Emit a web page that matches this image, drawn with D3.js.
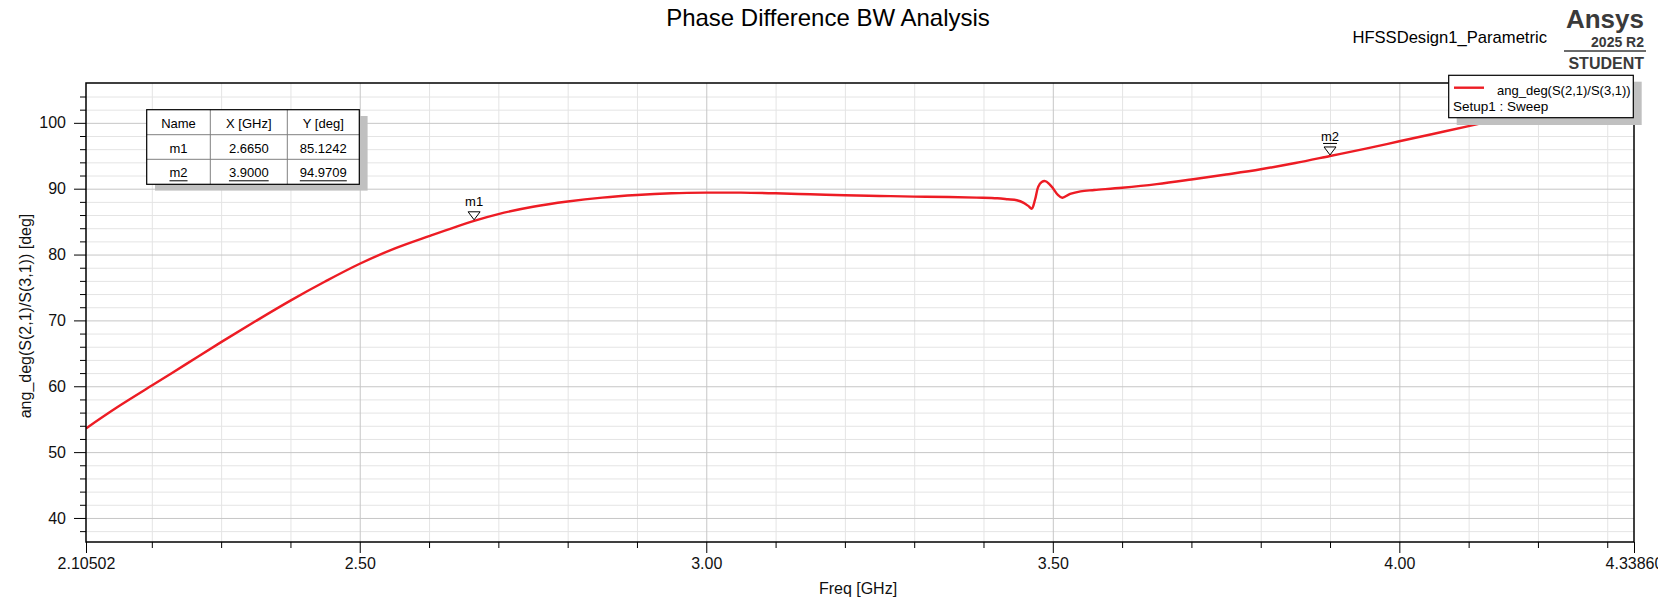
<!DOCTYPE html>
<html>
<head>
<meta charset="utf-8">
<script src="https://cdn.jsdelivr.net/npm/d3@7"></script>
<style>
  body { margin: 0; background: #fff; }
  svg { font-family: "Liberation Sans", Arial, sans-serif; }
</style>
</head>
<body>
<script>
// curve (GHz, deg)
var freq = [2.10502, 2.15, 2.2, 2.25, 2.3, 2.35, 2.4, 2.45, 2.5, 2.55, 2.6, 2.665, 2.7, 2.75,
    2.8, 2.85, 2.9, 2.95, 3.0, 3.05, 3.1, 3.15, 3.2, 3.25, 3.3, 3.35, 3.39, 3.42, 3.435,
    3.448, 3.458, 3.465, 3.4696, 3.4745, 3.479, 3.484, 3.489, 3.495, 3.5007, 3.507, 3.5137,
    3.525, 3.54, 3.56, 3.6, 3.65, 3.7, 3.75, 3.8, 3.85, 3.9, 3.95, 4.0, 4.05, 4.1, 4.15,
    4.2, 4.25, 4.3, 4.3386];
var phase = [53.6, 56.8, 60.1, 63.4, 66.7, 69.9, 73.0, 75.9, 78.6, 80.9, 82.8, 85.12, 86.15, 87.25,
    88.05, 88.65, 89.05, 89.3, 89.4, 89.4, 89.3, 89.15, 89.0, 88.9, 88.8, 88.75, 88.65, 88.55, 88.4,
    88.25, 87.85, 87.35, 86.96, 88.4, 90.3, 91.0, 91.15, 90.7, 90.0, 89.1, 88.63,
    89.2, 89.6, 89.8, 90.15, 90.7, 91.4, 92.15, 92.95, 93.9, 94.97, 96.05, 97.2, 98.35, 99.5, 100.7,
    101.95, 103.2, 104.5, 105.5];

var xMajor = [2.10502, 2.5, 3.0, 3.5, 4.0, 4.3386];
var xMajorLabels = ["2.10502", "2.50", "3.00", "3.50", "4.00", "4.33860"];
var xGridMajor = [2.5, 3.0, 3.5, 4.0];
var xMinor = [2.2, 2.3, 2.4, 2.6, 2.7, 2.8, 2.9, 3.1, 3.2, 3.3, 3.4, 3.6, 3.7, 3.8, 3.9, 4.1, 4.2, 4.3];
var yMajor = [40, 50, 60, 70, 80, 90, 100];
var yMinor = [38, 42, 44, 46, 48, 52, 54, 56, 58, 62, 64, 66, 68, 72, 74, 76, 78, 82, 84, 86, 88, 92, 94, 96, 98, 102, 104];

var markerNames = ["m1", "m2"];
var markerX = [2.665, 3.9];
var markerY = [85.1242, 94.9709];
var tableHeader = ["Name", "X [GHz]", "Y [deg]"];

var margin = {top: 83, left: 86};
var width = 1548;
var height = 459;

var svg = d3.select("body").append("svg")
    .attr("width", 1658)
    .attr("height", 600);

var g = svg.append("g")
    .attr("transform", "translate(" + margin.left + "," + margin.top + ")");

var xScale = d3.scaleLinear()
    .domain([2.10502, 4.3386])
    .range([0, width]);

var yScale = d3.scaleLinear()
    .domain([36.35, 106.05])
    .range([height, 0]);

// grid
g.append("g")
    .attr("transform", "translate(0," + height + ")")
    .call(d3.axisBottom(xScale).tickValues(xMinor).tickSize(-height).tickFormat(""))
    .call(function(a) { a.select(".domain").remove(); })
    .selectAll("line").attr("stroke", "#e4e4e4");
g.append("g")
    .call(d3.axisLeft(yScale).tickValues(yMinor).tickSize(-width).tickFormat(""))
    .call(function(a) { a.select(".domain").remove(); })
    .selectAll("line").attr("stroke", "#e4e4e4");
g.append("g")
    .attr("transform", "translate(0," + height + ")")
    .call(d3.axisBottom(xScale).tickValues(xGridMajor).tickSize(-height).tickFormat(""))
    .call(function(a) { a.select(".domain").remove(); })
    .selectAll("line").attr("stroke", "#c6c6c6");
g.append("g")
    .call(d3.axisLeft(yScale).tickValues(yMajor).tickSize(-width).tickFormat(""))
    .call(function(a) { a.select(".domain").remove(); })
    .selectAll("line").attr("stroke", "#c6c6c6");

// curve
g.append("clipPath").attr("id", "plotClip")
    .append("rect").attr("width", width).attr("height", height);

var line = d3.line()
    .x(function(d) { return xScale(d[0]); })
    .y(function(d) { return yScale(d[1]); })
    .curve(d3.curveCatmullRom);

g.append("path")
    .datum(freq.map(function(f, i) { return [f, phase[i]]; }))
    .attr("clip-path", "url(#plotClip)")
    .attr("fill", "none")
    .attr("stroke", "#ed1c24")
    .attr("stroke-width", 2.4)
    .attr("d", line);

// axes
g.append("g")
    .attr("transform", "translate(0," + height + ")")
    .call(d3.axisBottom(xScale).tickValues(xMinor).tickSize(6).tickFormat(""))
    .call(function(a) { a.select(".domain").remove(); })
    .selectAll("line").attr("stroke", "#000");

g.append("g")
    .attr("transform", "translate(0," + height + ")")
    .call(d3.axisBottom(xScale).tickValues(xMajor).tickSize(11).tickSizeOuter(0)
        .tickFormat(function(d, i) { return xMajorLabels[i]; }))
    .call(function(a) { a.select(".domain").remove(); })
    .call(function(a) { a.selectAll("line").attr("stroke", "#000"); })
    .selectAll("text")
        .attr("font-size", 16)
        .attr("fill", "#111")
        .attr("y", 16);

g.append("g")
    .call(d3.axisLeft(yScale).tickValues(yMinor).tickSize(6).tickFormat(""))
    .call(function(a) { a.select(".domain").remove(); })
    .selectAll("line").attr("stroke", "#000");

g.append("g")
    .call(d3.axisLeft(yScale).tickValues(yMajor).tickSize(12))
    .call(function(a) { a.select(".domain").remove(); })
    .call(function(a) { a.selectAll("line").attr("stroke", "#000"); })
    .selectAll("text")
        .attr("font-size", 16)
        .attr("fill", "#111")
        .attr("x", -20);

g.append("rect")
    .attr("width", width)
    .attr("height", height)
    .attr("fill", "none")
    .attr("stroke", "#000")
    .attr("stroke-width", 1.5);

// titles
svg.append("text")
    .text("Phase Difference BW Analysis")
    .attr("text-anchor", "middle")
    .attr("x", 828)
    .attr("y", 26)
    .attr("font-size", 24);

svg.append("text")
    .text("Freq [GHz]")
    .attr("text-anchor", "middle")
    .attr("x", 858)
    .attr("y", 594)
    .attr("font-size", 16)
    .attr("fill", "#111");

svg.append("text")
    .text("ang_deg(S(2,1)/S(3,1)) [deg]")
    .attr("text-anchor", "middle")
    .attr("transform", "translate(31,316) rotate(-90)")
    .attr("font-size", 16)
    .attr("fill", "#111");

svg.append("text")
    .text("HFSSDesign1_Parametric")
    .attr("text-anchor", "end")
    .attr("x", 1547)
    .attr("y", 43)
    .attr("font-size", 16.6);

// ansys badge
var badge = svg.append("g").attr("fill", "#3a3a3a").attr("font-weight", "bold").attr("text-anchor", "end");
badge.append("text").text("Ansys").attr("x", 1644).attr("y", 28).attr("font-size", 26);
badge.append("text").text("2025 R2").attr("x", 1644).attr("y", 47).attr("font-size", 14);
badge.append("line").attr("x1", 1564).attr("x2", 1646).attr("y1", 51).attr("y2", 51)
    .attr("stroke", "#3a3a3a").attr("stroke-width", 1.3);
badge.append("text").text("STUDENT").attr("x", 1644).attr("y", 69).attr("font-size", 16);

// markers
var mk = g.selectAll(".marker")
    .data(markerNames)
    .enter().append("g")
        .attr("class", "marker")
        .attr("transform", function(d, i) {
            return "translate(" + xScale(markerX[i]) + "," + (yScale(markerY[i]) - 1) + ")";
        });

mk.append("path")
    .attr("d", "M-6,-8 L6,-8 L0,0 Z")
    .attr("fill", "#fff")
    .attr("fill-opacity", 0.6)
    .attr("stroke", "#000")
    .attr("stroke-width", 1);

mk.append("text")
    .text(function(d) { return d; })
    .attr("text-anchor", "middle")
    .attr("y", -14)
    .attr("font-size", 13);

mk.filter(function(d, i) { return i == 1; })
    .append("line")
    .attr("x1", -7).attr("x2", 7)
    .attr("y1", -11.5).attr("y2", -11.5)
    .attr("stroke", "#000");

// marker table
var colX = [146.7, 210.3, 287.3, 359.3];
var rowY = [109.7, 134.7, 159.3, 184.3];

svg.append("rect")
    .attr("x", 155).attr("y", 116)
    .attr("width", colX[3] - colX[0]).attr("height", rowY[3] - rowY[0])
    .attr("fill", "#c0c0c0");

svg.append("rect")
    .attr("x", colX[0]).attr("y", rowY[0])
    .attr("width", colX[3] - colX[0]).attr("height", rowY[3] - rowY[0])
    .attr("fill", "#fff");

[1, 2].forEach(function(i) {
    svg.append("line").attr("x1", colX[0]).attr("x2", colX[3])
        .attr("y1", rowY[i]).attr("y2", rowY[i]).attr("stroke", "#808080");
    svg.append("line").attr("x1", colX[i]).attr("x2", colX[i])
        .attr("y1", rowY[0]).attr("y2", rowY[3]).attr("stroke", "#808080");
});

svg.append("rect")
    .attr("x", colX[0]).attr("y", rowY[0])
    .attr("width", colX[3] - colX[0]).attr("height", rowY[3] - rowY[0])
    .attr("fill", "none").attr("stroke", "#000").attr("stroke-width", 1.2);

var tableRows = [tableHeader].concat(markerNames.map(function(n, i) {
    return [n, markerX[i].toFixed(4), markerY[i].toFixed(4)];
}));

tableRows.forEach(function(row, r) {
    row.forEach(function(cell, c) {
        var cx = (colX[c] + colX[c + 1]) / 2;
        var t = svg.append("text")
            .text(cell)
            .attr("text-anchor", "middle")
            .attr("x", cx)
            .attr("y", rowY[r] + 18)
            .attr("font-size", 13);
        if (r == 2) {
            var w = t.node().getComputedTextLength();
            svg.append("line")
                .attr("x1", cx - w / 2).attr("x2", cx + w / 2)
                .attr("y1", rowY[r] + 21.5).attr("y2", rowY[r] + 21.5)
                .attr("stroke", "#000");
        }
    });
});

// legend
svg.append("rect")
    .attr("x", 1456.7).attr("y", 81.7)
    .attr("width", 185).attr("height", 43.3)
    .attr("fill", "#c0c0c0");
svg.append("rect")
    .attr("x", 1448.7).attr("y", 75.3)
    .attr("width", 184.6).attr("height", 42.4)
    .attr("fill", "#fff").attr("stroke", "#000").attr("stroke-width", 1.2);
svg.append("line")
    .attr("x1", 1454).attr("x2", 1484).attr("y1", 87.7).attr("y2", 87.7)
    .attr("stroke", "#ed1c24").attr("stroke-width", 2.4);
svg.append("text")
    .text("ang_deg(S(2,1)/S(3,1))")
    .attr("x", 1497).attr("y", 95)
    .attr("font-size", 13);
svg.append("text")
    .text("Setup1 : Sweep")
    .attr("x", 1453).attr("y", 111)
    .attr("font-size", 13.5);
</script>
</body>
</html>
